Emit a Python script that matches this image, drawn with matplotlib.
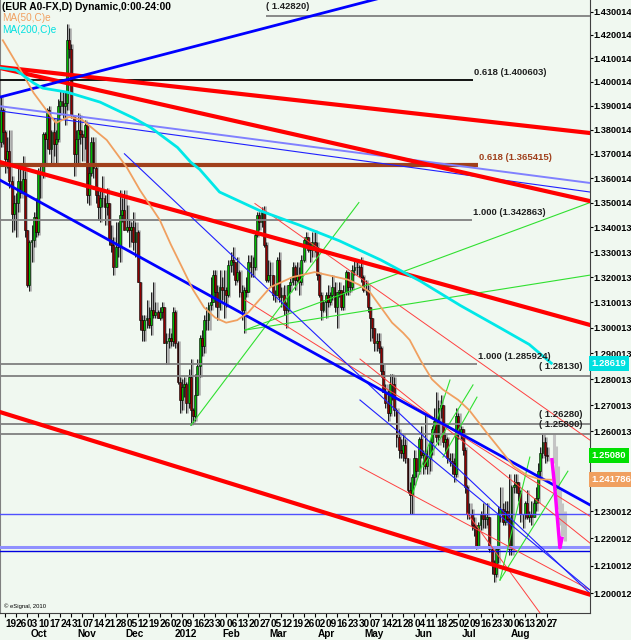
import numpy as np
import pandas as pd
import matplotlib
matplotlib.use('Agg')
from matplotlib import pyplot as plt
from matplotlib.transforms import blended_transform_factory

plt.rcParams['font.family'] = ['Liberation Sans', 'DejaVu Sans']

# daily EUR/USD bars, one per weekday from 15 Sep 2011 to 27 Aug 2012
dates = pd.bdate_range('2011-09-15', '2012-08-27')
first_open = 1.3750
closes = [
    # Sep
    1.3880, 1.3790, 1.3680, 1.3710, 1.3590, 1.3455, 1.3500, 1.3500, 1.3590, 1.3540, 1.3595, 1.3390,
    # Oct
    1.3170, 1.3340, 1.3350, 1.3440, 1.3380, 1.3620, 1.3620, 1.3780, 1.3760, 1.3880, 1.3720,
    1.3790, 1.3740, 1.3760, 1.3900, 1.3920, 1.3900, 1.3910, 1.4180, 1.4140, 1.3860,
    # Nov
    1.3700, 1.3760, 1.3800, 1.3780, 1.3770, 1.3820, 1.3530, 1.3620, 1.3750, 1.3640, 1.3530,
    1.3480, 1.3520, 1.3520, 1.3480, 1.3500, 1.3350, 1.3330, 1.3240, 1.3320, 1.3320, 1.3450,
    # Dec
    1.3470, 1.3390, 1.3400, 1.3390, 1.3400, 1.3340, 1.3380, 1.3180, 1.3030, 1.2990, 1.3030,
    1.3040, 1.3010, 1.3070, 1.3050, 1.3060, 1.3040, 1.3060, 1.3080, 1.2940, 1.2950, 1.2960,
    # Jan
    1.2950, 1.3060, 1.2940, 1.2790, 1.2720, 1.2770, 1.2780, 1.2710, 1.2810, 1.2680, 1.2660,
    1.2740, 1.2850, 1.2960, 1.2930, 1.3030, 1.3030, 1.3090, 1.3100, 1.3210, 1.3140, 1.3080,
    # Feb
    1.3160, 1.3150, 1.3150, 1.3130, 1.3250, 1.3270, 1.3260, 1.3190, 1.3220, 1.3140, 1.3070,
    1.3150, 1.3140, 1.3260, 1.3240, 1.3240, 1.3370, 1.3450, 1.3420, 1.3460, 1.3330,
    # Mar
    1.3190, 1.3210, 1.3210, 1.3130, 1.3130, 1.3270, 1.3120, 1.3130, 1.3070, 1.3070, 1.3170,
    1.3180, 1.3240, 1.3190, 1.3210, 1.3180, 1.3270, 1.3350, 1.3360, 1.3310, 1.3310, 1.3340,
    # Apr
    1.3320, 1.3210, 1.3130, 1.3070, 1.3100, 1.3130, 1.3100, 1.3130, 1.3160, 1.3080, 1.3140,
    1.3150, 1.3080, 1.3140, 1.3220, 1.3160, 1.3160, 1.3230, 1.3240, 1.3240, 1.3240,
    # May
    1.3200, 1.3150, 1.3150, 1.3080, 1.3040, 1.3000, 1.2940, 1.2950, 1.2920, 1.2830, 1.2750, 1.2710,
    1.2670, 1.2780, 1.2780, 1.2680, 1.2580, 1.2530, 1.2520, 1.2550, 1.2500, 1.2380, 1.2360,
    # Jun
    1.2430, 1.2500, 1.2450, 1.2570, 1.2510, 1.2520, 1.2470, 1.2500, 1.2560, 1.2610, 1.2640,
    1.2580, 1.2690, 1.2700, 1.2560, 1.2570, 1.2500, 1.2490, 1.2480, 1.2440, 1.2660,
    # Jul
    1.2590, 1.2610, 1.2530, 1.2390, 1.2290, 1.2290, 1.2250, 1.2240, 1.2170, 1.2250, 1.2290,
    1.2270, 1.2270, 1.2280, 1.2160, 1.2110, 1.2070, 1.2160, 1.2290, 1.2310, 1.2260, 1.2300,
    # Aug
    1.2270, 1.2160, 1.2390, 1.2400, 1.2410, 1.2370, 1.2290, 1.2290, 1.2330, 1.2280,
    1.2290, 1.2280, 1.2330, 1.2350, 1.2450, 1.2520, 1.2560, 1.2510, 1.2508,
]
highs = [
    1.3940, 1.3890, 1.3800, 1.3770, 1.3800, 1.3610, 1.3530, 1.3540, 1.3650, 1.3650, 1.3690, 1.3630,
    1.3390, 1.3350, 1.3410, 1.3460, 1.3520, 1.3640, 1.3660, 1.3790, 1.3790, 1.3890, 1.3900,
    1.3800, 1.3850, 1.3800, 1.3930, 1.3960, 1.3960, 1.3960, 1.4247, 1.4230, 1.4160,
    1.3860, 1.3800, 1.3870, 1.3860, 1.3800, 1.3840, 1.3820, 1.3650, 1.3770, 1.3770, 1.3660,
    1.3560, 1.3560, 1.3610, 1.3530, 1.3560, 1.3500, 1.3410, 1.3360, 1.3420, 1.3420, 1.3550,
    1.3520, 1.3550, 1.3490, 1.3430, 1.3420, 1.3460, 1.3420, 1.3390, 1.3180, 1.3050, 1.3050,
    1.3110, 1.3080, 1.3140, 1.3180, 1.3100, 1.3070, 1.3080, 1.3100, 1.3080, 1.2980, 1.3000,
    1.2980, 1.3080, 1.3070, 1.2950, 1.2810, 1.2800, 1.2810, 1.2790, 1.2840, 1.2880, 1.2690,
    1.2820, 1.2880, 1.2970, 1.2990, 1.3050, 1.3080, 1.3100, 1.3200, 1.3230, 1.3230, 1.3170,
    1.3230, 1.3200, 1.3230, 1.3160, 1.3270, 1.3300, 1.3320, 1.3260, 1.3280, 1.3230, 1.3170,
    1.3160, 1.3200, 1.3290, 1.3290, 1.3280, 1.3380, 1.3460, 1.3460, 1.3480, 1.3486,
    1.3340, 1.3270, 1.3260, 1.3210, 1.3150, 1.3280, 1.3300, 1.3160, 1.3170, 1.3100, 1.3170,
    1.3200, 1.3260, 1.3250, 1.3260, 1.3240, 1.3290, 1.3360, 1.3380, 1.3360, 1.3340, 1.3380,
    1.3390, 1.3340, 1.3220, 1.3140, 1.3110, 1.3140, 1.3170, 1.3140, 1.3210, 1.3180, 1.3140,
    1.3180, 1.3150, 1.3170, 1.3230, 1.3210, 1.3190, 1.3250, 1.3270, 1.3260, 1.3250,
    1.3280, 1.3210, 1.3190, 1.3170, 1.3060, 1.3040, 1.2990, 1.2980, 1.2980, 1.2930, 1.2860, 1.2780,
    1.2760, 1.2820, 1.2820, 1.2810, 1.2690, 1.2610, 1.2570, 1.2590, 1.2570, 1.2500, 1.2410,
    1.2440, 1.2530, 1.2490, 1.2580, 1.2620, 1.2530, 1.2670, 1.2540, 1.2570, 1.2620, 1.2690,
    1.2750, 1.2720, 1.2740, 1.2700, 1.2590, 1.2580, 1.2520, 1.2520, 1.2500, 1.2690,
    1.2670, 1.2620, 1.2610, 1.2540, 1.2400, 1.2330, 1.2310, 1.2280, 1.2250, 1.2260, 1.2300,
    1.2330, 1.2290, 1.2330, 1.2280, 1.2170, 1.2120, 1.2170, 1.2320, 1.2390, 1.2330, 1.2340,
    1.2340, 1.2440, 1.2400, 1.2440, 1.2440, 1.2410, 1.2380, 1.2290, 1.2340, 1.2380,
    1.2300, 1.2340, 1.2350, 1.2390, 1.2480, 1.2540, 1.2589, 1.2580, 1.2540,
]
lows = [
    1.3730, 1.3740, 1.3620, 1.3640, 1.3560, 1.3380, 1.3390, 1.3360, 1.3460, 1.3520, 1.3540, 1.3360,
    1.3160, 1.3145, 1.3260, 1.3320, 1.3360, 1.3370, 1.3520, 1.3600, 1.3660, 1.3720, 1.3700,
    1.3650, 1.3690, 1.3650, 1.3750, 1.3860, 1.3850, 1.3820, 1.3880, 1.4100, 1.3850,
    1.3610, 1.3650, 1.3660, 1.3740, 1.3670, 1.3720, 1.3500, 1.3490, 1.3610, 1.3600, 1.3500,
    1.3430, 1.3420, 1.3480, 1.3410, 1.3450, 1.3330, 1.3300, 1.3210, 1.3300, 1.3280, 1.3260,
    1.3420, 1.3390, 1.3380, 1.3320, 1.3340, 1.3310, 1.3280, 1.3180, 1.2990, 1.2950, 1.2950,
    1.3000, 1.3000, 1.2970, 1.3040, 1.3040, 1.3040, 1.3030, 1.3040, 1.2940, 1.2860, 1.2920,
    1.2930, 1.2930, 1.2920, 1.2780, 1.2670, 1.2680, 1.2730, 1.2670, 1.2690, 1.2623, 1.2630,
    1.2640, 1.2740, 1.2810, 1.2890, 1.2900, 1.2990, 1.2990, 1.3070, 1.3100, 1.3080, 1.3030,
    1.3070, 1.3110, 1.3040, 1.3080, 1.3120, 1.3220, 1.3210, 1.3170, 1.3180, 1.3120, 1.3030,
    1.2980, 1.3120, 1.3160, 1.3200, 1.3200, 1.3230, 1.3360, 1.3390, 1.3400, 1.3320,
    1.3180, 1.3180, 1.3160, 1.3110, 1.3100, 1.3130, 1.3100, 1.3080, 1.3050, 1.3000, 1.3060,
    1.3140, 1.3170, 1.3150, 1.3180, 1.3130, 1.3170, 1.3260, 1.3330, 1.3300, 1.3260, 1.3280,
    1.3300, 1.3190, 1.3120, 1.3030, 1.3060, 1.3040, 1.3080, 1.3090, 1.3110, 1.3060, 1.3000,
    1.3120, 1.3070, 1.3070, 1.3130, 1.3130, 1.3140, 1.3150, 1.3210, 1.3210, 1.3200,
    1.3180, 1.3140, 1.3130, 1.3060, 1.2950, 1.2960, 1.2910, 1.2910, 1.2900, 1.2810, 1.2750, 1.2690,
    1.2640, 1.2660, 1.2720, 1.2660, 1.2540, 1.2500, 1.2500, 1.2490, 1.2480, 1.2370, 1.2290,
    1.2290, 1.2400, 1.2430, 1.2440, 1.2500, 1.2440, 1.2460, 1.2440, 1.2450, 1.2510, 1.2590,
    1.2560, 1.2550, 1.2650, 1.2540, 1.2520, 1.2480, 1.2470, 1.2440, 1.2410, 1.2430,
    1.2570, 1.2570, 1.2510, 1.2370, 1.2270, 1.2270, 1.2230, 1.2210, 1.2160, 1.2170, 1.2230,
    1.2240, 1.2240, 1.2250, 1.2150, 1.2070, 1.2042, 1.2060, 1.2110, 1.2260, 1.2250, 1.2250,
    1.2260, 1.2140, 1.2140, 1.2370, 1.2370, 1.2340, 1.2260, 1.2240, 1.2270, 1.2270,
    1.2260, 1.2250, 1.2290, 1.2300, 1.2330, 1.2420, 1.2500, 1.2480, 1.2490,
]

# moving averages: (bar index, value), index 0 = 19 Sep 2011
ma50_idx = [-1, 7, 13, 23, 29, 35, 46, 55, 61, 70, 75, 80, 85, 90, 95, 100, 105, 110, 115, 120,
            125, 130, 135, 140, 145, 150, 155, 160, 165, 170, 175, 180, 183, 188, 193, 198, 205,
            210, 218, 225, 230, 236, 242, 247]
ma50_val = [1.4177, 1.4050, 1.3953, 1.3828, 1.3853, 1.3840, 1.3757, 1.3645, 1.3551, 1.3429,
            1.3330, 1.3240, 1.3150, 1.3080, 1.3040, 1.3020, 1.3030, 1.3060, 1.3110, 1.3160,
            1.3180, 1.3200, 1.3210, 1.3220, 1.3210, 1.3200, 1.3190, 1.3170, 1.3140, 1.3080,
            1.3020, 1.2980, 1.2952, 1.2871, 1.2800, 1.2760, 1.2720, 1.2680, 1.2593, 1.2520,
            1.2468, 1.2435, 1.2419, 1.2418]
ma200_idx = [-2, 5, 13, 17, 28, 43, 58, 66, 78, 84, 88, 97, 115, 133, 151, 170, 188, 206, 224, 237, 247]
ma200_val = [1.4059, 1.4050, 1.3995, 1.3974, 1.3957, 1.3915, 1.3849, 1.3808, 1.3726, 1.3665,
             1.3636, 1.3543, 1.3468, 1.3409, 1.3346, 1.3268, 1.3183, 1.3087, 1.2999, 1.2935, 1.2862]

# drawn trend lines: (index0, price0, index1, price1)
red_thick = [(-2.3, 1.4063, 264.5, 1.3786), (-2.3, 1.4059, 264.5, 1.3506),
             (-2.3, 1.3666, 264.5, 1.3011), (-2.3, 1.2674, 264.5, 1.1995)]
blue_thick = [(-2.3, 1.3936, 169.5, 1.4358), (-2.3, 1.3592, 264.5, 1.2324)]
blue_light = [(-2.3, 1.3898, 264.5, 1.3580)]
blue_thin = [(-2.3, 1.3878, 264.5, 1.3543), (54, 1.3700, 264.5, 1.2000),
             (160.5, 1.2720, 264.5, 1.2012)]
green_thin = [(108.5, 1.2991, 264.5, 1.3500), (108.5, 1.2991, 264.5, 1.3208),
              (84, 1.2623, 160, 1.3500),
              (184.4, 1.2368, 201.2, 1.2797), (189.0, 1.2466, 211.6, 1.2778),
              (198.0, 1.2503, 213.4, 1.2731),
              (223.8, 1.2048, 237.3, 1.2503), (223.8, 1.2048, 254.5, 1.2450)]
red_thin = [(113, 1.3496, 264.5, 1.2567), (108.5, 1.3109, 264.5, 1.2282),
            (160.5, 1.2878, 264.5, 1.2183), (160.5, 1.2466, 264.5, 1.2012),
            (208.9, 1.2294, 241.9, 1.1929)]

# horizontal levels: (price, start index, end index, label)
levels = [
    (1.42820, 118, 264.5, '( 1.42820)'),
    (1.400603, -2.3, 211.6, '0.618 (1.400603)'),
    (1.365415, -2.3, 213.8, '0.618 (1.365415)'),
    (1.342863, -2.3, 211.1, '1.000 (1.342863)'),
    (1.285924, -2.3, 213.4, '1.000 (1.285924)'),
    (1.28130, -2.3, 264.5, '( 1.28130)'),
    (1.26280, -2.3, 264.5, '( 1.26280)'),
    (1.25890, -2.3, 264.5, '( 1.25890)'),
]
blue_levels = [1.2290, 1.2170, 1.2153]

# projection after the last bar
proj_idx = [247.3, 248.6, 250.9, 251.8]
proj_val = [1.2493, 1.2385, 1.2166, 1.2200]
ghost_idx = [248, 249, 250, 251, 252, 253]
ghost_hi = [1.2590, 1.2545, 1.2470, 1.2380, 1.2330, 1.2300]
ghost_lo = [1.2480, 1.2400, 1.2310, 1.2250, 1.2210, 1.2190]

ytick_vals = [1.43, 1.42, 1.41, 1.40, 1.39, 1.38, 1.37, 1.36, 1.35, 1.34, 1.33, 1.32,
              1.31, 1.30, 1.29, 1.28, 1.27, 1.26, 1.23, 1.22, 1.21, 1.20]
ytick_text = ['1.430014', '1.420014', '1.410014', '1.400014', '1.390014', '1.380014',
              '1.370014', '1.360014', '1.350014', '1.340013', '1.330013', '1.320013',
              '1.310013', '1.300013', '1.290013', '1.280013', '1.270013', '1.260013',
              '1.230012', '1.220012', '1.210012', '1.200012']

BG = '#f0f8f0'
idx = np.arange(len(closes)) - 2
c = np.array(closes)
o = np.concatenate([[first_open], c[:-1]])
h = np.maximum(np.array(highs), np.maximum(o, c))
l = np.minimum(np.array(lows), np.minimum(o, c))

fig = plt.figure(figsize=(6.31, 6.40), dpi=100)
fig.patch.set_facecolor(BG)
ax = fig.add_axes([0, 1 - 613 / 640, 590 / 631, 613 / 640])
ax.set_facecolor(BG)
ax.set_yscale('log')

# candles: grey shadow, black wick, coloured body
ax.vlines(idx + 0.5, l, h, color='#a8a8a8', lw=1.8, zorder=2)
ax.vlines(idx, l, h, color='#202020', lw=0.7, zorder=3)
up = c >= o
ax.bar(idx[up], (c - o)[up], bottom=o[up], width=0.85, color='#00b800',
       edgecolor='black', lw=0.4, zorder=4)
ax.bar(idx[~up], (o - c)[~up], bottom=c[~up], width=0.85, color='#900000',
       edgecolor='black', lw=0.4, zorder=4)
ax.vlines(ghost_idx, ghost_lo, ghost_hi, color='#c4c4c4', lw=2.2, zorder=2)

for p, x0, x1, lab in levels:
    col = '#a0401c' if p == 1.365415 else ('black' if p == 1.400603 else '#808080')
    lw = 3 if p == 1.365415 else 1.3
    ax.plot([x0, x1], [p, p], color=col, lw=lw, zorder=5, solid_capstyle='butt')
for p in blue_levels:
    lw = 2.2 if p == 1.2170 else 1.0
    col = '#9090ff' if p == 1.2170 else ('#5050ff' if p == 1.2290 else '#0000e0')
    ax.axhline(p, color=col, lw=lw, zorder=5)

for group, col, lw in [(red_thin, '#ff4040', 0.7), (green_thin, '#30e030', 0.8),
                       (blue_thin, '#2020ff', 0.8), (blue_light, '#8080ff', 1.4),
                       (red_thick, '#ff0000', 3.0), (blue_thick, '#0000ff', 2.0)]:
    for x0, p0, x1, p1 in group:
        ax.plot([x0, x1], [p0, p1], color=col, lw=lw, zorder=6)

ax.plot(ma50_idx, ma50_val, color='#f0a060', lw=1.3, zorder=7)
ax.plot(ma200_idx, ma200_val, color='#00e8e8', lw=2.0, zorder=7)
ax.plot(proj_idx, proj_val, color='#ff00ff', lw=2.5, zorder=8)

# level labels
for p, x0, x1, lab in levels:
    if lab.startswith('('):
        xl = 118 if p == 1.42820 else 241.5
        ax.text(xl, p * 1.0015, lab, fontsize=6.8, fontweight='bold', ha='left',
                va='bottom', color='#202020', zorder=9)
    else:
        col = '#a0401c' if p == 1.365415 else '#202020'
        ax.text(x1 + 0.3, p * 1.001, lab, fontsize=6.8, fontweight='bold', ha='left',
                va='bottom', color=col, zorder=9)

ax.set_xlim(-2.26, 264.5)
ax.set_ylim(1.1929, 1.4350)

# right price axis
ax.yaxis.tick_right()
ax.set_yticks(ytick_vals)
ax.set_yticklabels(ytick_text)
ax.yaxis.set_minor_locator(matplotlib.ticker.NullLocator())
ax.tick_params(axis='y', length=2, pad=0.5, labelsize=6.6, colors='black')
for t in ax.get_yticklabels():
    t.set_fontweight('bold')

# bottom date axis: every Monday, month names below
mondays = [i for i, d in zip(idx, dates) if d.dayofweek == 0]
mon_lab = ['%02d' % d.day for d in dates if d.dayofweek == 0]
ax.set_xticks(mondays)
ax.set_xticklabels(mon_lab, ha='left')
ax.tick_params(axis='x', length=3, pad=1.5, labelsize=7.2)
for t in ax.get_xticklabels():
    t.set_fontweight('bold')
trans = blended_transform_factory(ax.transData, fig.transFigure)
seen = set()
for i, d in zip(idx, dates):
    key = (d.year, d.month)
    if key in seen or i < 5:
        seen.add(key)
        continue
    seen.add(key)
    name = '2012' if d.month == 1 else d.strftime('%b')
    ax.text(i + 1.5, 1 - 634 / 640, name, transform=trans, fontsize=7.2,
            fontweight='bold', ha='left', va='center', clip_on=False)

ax.spines['top'].set_visible(False)
ax.spines['left'].set_color('#808080')
ax.spines['bottom'].set_color('#404040')
ax.spines['right'].set_color('#404040')

# value boxes on the price axis
btr = blended_transform_factory(ax.transAxes, ax.transData)
for val, txt, col in [(1.28619, '1.28619', '#00e0e0'), (1.25080, '1.25080', '#00e000'),
                      (1.241786, '1.241786', '#f0a060')]:
    ax.text(1.003, val, txt, transform=btr, fontsize=6.8, fontweight='bold', color='white',
            ha='left', va='center', clip_on=False, zorder=10,
            bbox=dict(boxstyle='square,pad=0.3', fc=col, ec='none'))

fig.text(0.003, 1 - 7 / 640, '(EUR A0-FX,D) Dynamic,0:00-24:00', fontsize=7.4,
         fontweight='bold', va='center')
fig.text(0.003, 1 - 18 / 640, 'MA(50,C)e', fontsize=7.2, color='#f0a060', va='center')
fig.text(0.003, 1 - 30 / 640, 'MA(200,C)e', fontsize=7.2, color='#00e0e0', va='center')
fig.text(0.006, 1 - 606 / 640, '\u00a9 eSignal, 2010', fontsize=4.2, va='center')

fig.savefig('out.png', dpi=100, facecolor=BG)
